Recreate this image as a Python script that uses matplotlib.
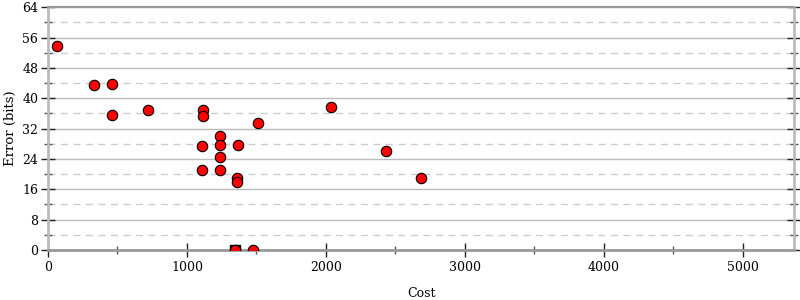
import numpy as np
import matplotlib
matplotlib.use("Agg")
import matplotlib.pyplot as plt
from matplotlib.ticker import MultipleLocator

# points
cost = [65, 331, 460, 460, 719, 1115, 1115, 1511, 2036, 1237, 1108, 1237, 1367,
        1237, 1108, 1237, 1360, 1360, 2432, 2683, 1345, 1475]
error = [53.7, 43.6, 43.9, 35.7, 37.0, 36.8, 35.3, 33.6, 37.6, 30.1, 27.4, 27.8, 27.8,
         24.4, 21.1, 21.1, 19.1, 17.8, 26.0, 19.1, 0.0, 0.0]
best_cost = [1345]
best_error = [0.0]

plt.rcParams['font.family'] = 'DejaVu Serif'

fig = plt.figure(figsize=(8, 3), dpi=100)
ax = fig.add_axes([0.06, 0.1667, 0.9325, 0.809])

ax.set_xlim(0, 5367)
ax.set_ylim(0, 64)

ax.xaxis.set_major_locator(MultipleLocator(1000))
ax.xaxis.set_minor_locator(MultipleLocator(500))
ax.yaxis.set_major_locator(MultipleLocator(8))
ax.yaxis.set_minor_locator(MultipleLocator(4))

ax.grid(True, which='major', axis='y', color='#bbbbbb', lw=1, ls='-')
ax.grid(True, which='minor', axis='y', color='#cccccc', lw=1, ls=(0, (5, 4)))
ax.set_axisbelow(True)

ax.tick_params(axis='both', which='major', direction='inout', length=10, width=1,
               color='#222222', labelsize=9)
ax.tick_params(axis='both', which='minor', direction='inout', length=6, width=1,
               color='#555555')
ax.tick_params(axis='y', which='both', right=True, pad=2)
ax.tick_params(axis='x', which='both', pad=3)

for side in ['left', 'right']:
    ax.spines[side].set_color('#bbbbbb')
    ax.spines[side].set_linewidth(2)
ax.spines['bottom'].set_color('#999999')
ax.spines['bottom'].set_linewidth(2)
ax.spines['top'].set_color('#999999')
ax.spines['top'].set_linewidth(1.5)

ax.plot(best_cost, best_error, 's', color='black', markersize=7, zorder=3)
ax.plot(cost, error, 'o', color='red', markeredgecolor='black', markeredgewidth=0.8,
        markersize=7.5, zorder=4)

ax.set_xlabel('Cost', fontsize=9, labelpad=9)
ax.set_ylabel('Error (bits)', fontsize=9.5, labelpad=4)

fig.savefig('out.png', dpi=100)
